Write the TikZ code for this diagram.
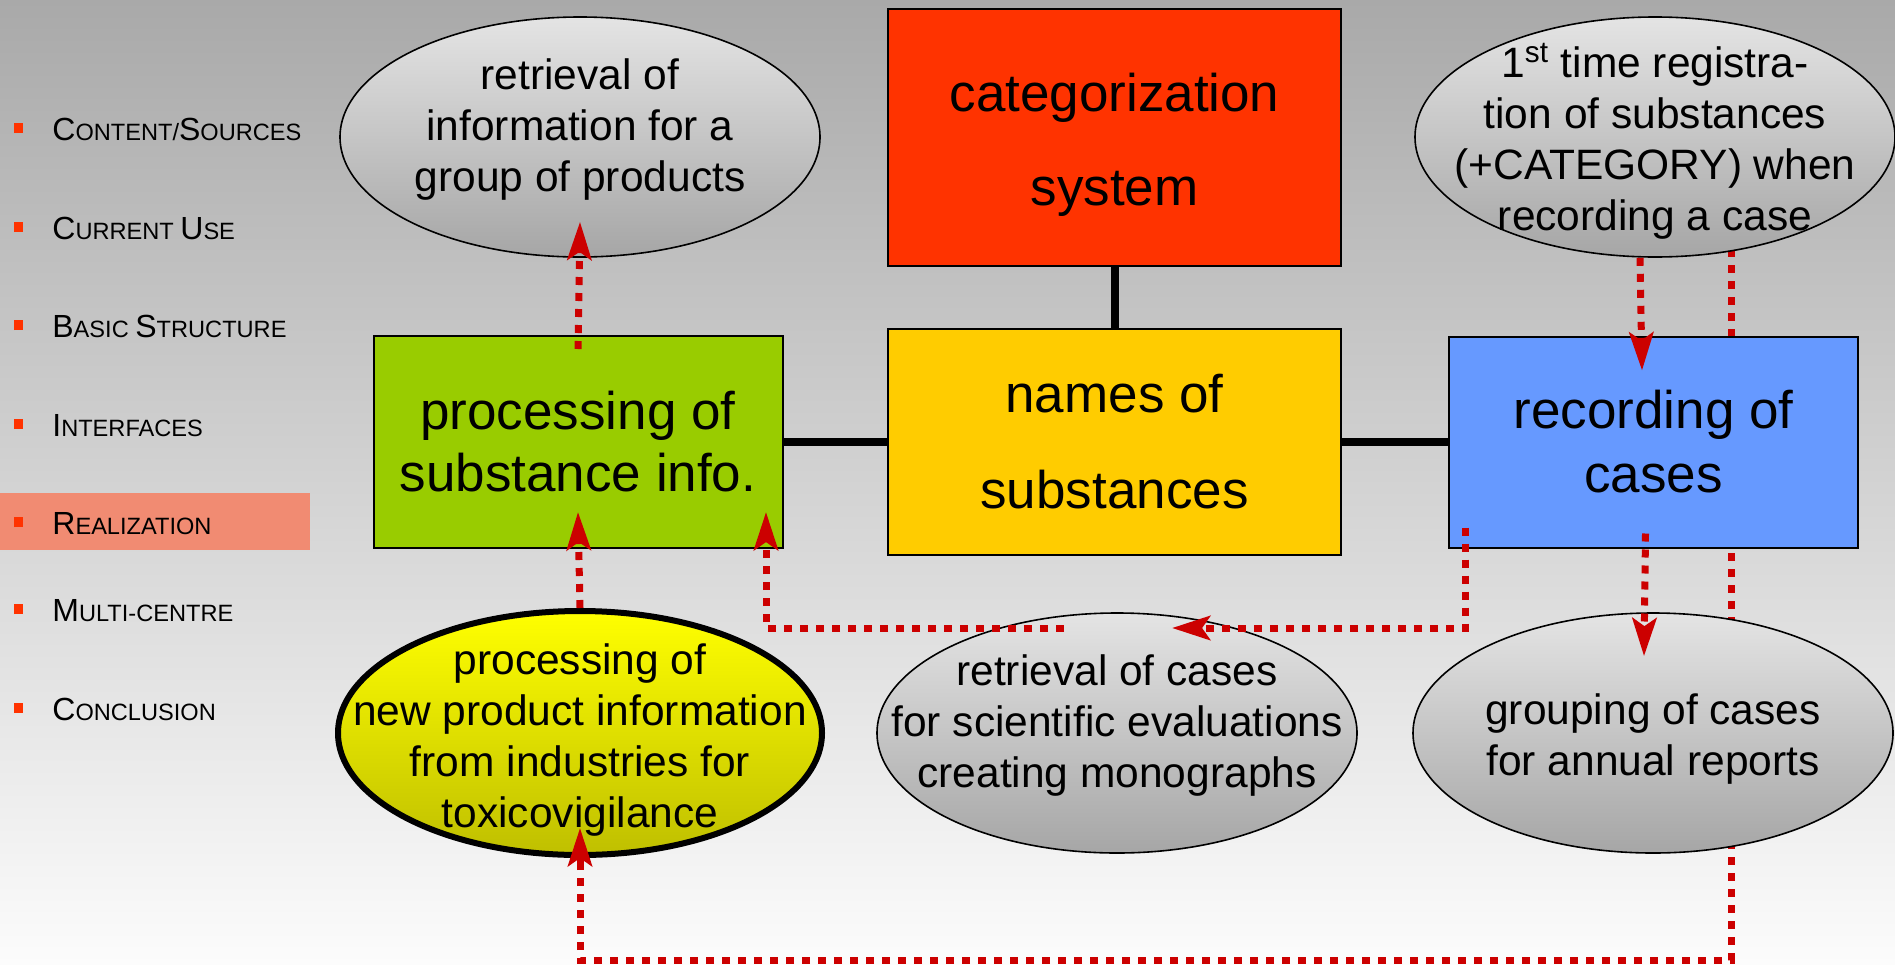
\documentclass[tikz,border=0pt]{standalone}
\usepackage{fontspec}
\setmainfont{Liberation Sans}
\usepackage{tikz}
\usetikzlibrary{arrows.meta,
                calc,
                positioning,
                shapes.geometric}

\definecolor{catred}{HTML}{FF3300}
\definecolor{nameyellow}{HTML}{FFCC00}
\definecolor{procgreen}{HTML}{99CC00}
\definecolor{recblue}{HTML}{6699FF}
\definecolor{flowred}{HTML}{CC0000}
\definecolor{hilite}{HTML}{F18B72}
\definecolor{ovaltop}{HTML}{E4E4E4}
\definecolor{ovalbot}{HTML}{A6A6A6}
\definecolor{bgtop}{HTML}{A9A9A9}
\definecolor{bgbot}{HTML}{FCFCFC}

\pgfdeclarelayer{bg}
\pgfdeclarelayer{behind}
\pgfsetlayers{bg,behind,main}

% sidebar: big first letters, small caps rest
\newcommand{\capL}[1]{{\fontsize{16pt}{19pt}\selectfont #1}}
\newcommand{\bul}{\textcolor{catred}{\rule[3.5pt]{4.5pt}{5pt}}\hspace{14.5pt}}

\begin{document}
\begin{tikzpicture}[
				x=0.5pt, y=-0.5pt,
				node distance=30pt,
				main box/.style={rectangle,draw,line width=1pt,align=center,inner sep=0pt,
				                 font=\fontsize{26.5pt}{48pt}\selectfont},
				oval/.style={ellipse,draw,line width=0.8pt,top color=ovaltop,bottom color=ovalbot,
				             minimum width=240pt,minimum height=120pt,inner sep=0pt},
				oval text/.style={align=center,inner sep=0pt,font=\fontsize{21.25pt}{25.5pt}\selectfont},
				side item/.style={anchor=base west,inner sep=0pt,font=\fontsize{11.8pt}{14pt}\selectfont},
				link/.style={line width=4pt},
				flow line/.style={draw=flowred,line width=3.5pt,dash pattern=on 4pt off 4pt},
				flow/.style={flow line,-{Stealth[length=19pt,width=12pt,inset=4pt]}}
				]
		\useasboundingbox (0,0) rectangle (1895,964);

		% sidebar
		\node[side item] (s1) at (14,140) {\bul\capL{C}ONTENT/\capL{S}OURCES};
		\node[side item] (s2) at (14,239) {\bul\capL{C}URRENT \capL{U}SE};
		\node[side item] (s3) at (14,337) {\bul\capL{B}ASIC \capL{S}TRUCTURE};
		\node[side item] (s4) at (14,436) {\bul\capL{I}NTERFACES};
		\node[side item] (s5) at (14,534) {\bul\capL{R}EALIZATION};
		\node[side item] (s6) at (14,621) {\bul\capL{M}ULTI-CENTRE};
		\node[side item] (s7) at (14,720) {\bul\capL{C}ONCLUSION};

		% boxes
		\node[main box,fill=catred,minimum width=226.5pt,minimum height=128.5pt,
		      font=\fontsize{26.5pt}{47pt}\selectfont,text height=73.2pt] (cat) at (1114.5,137.5) {categorization\\system};
		\node[main box,fill=nameyellow,minimum width=226.5pt,minimum height=113pt] (names) [below=30.5pt of cat] {names of\\substances};
		\node[main box,fill=procgreen,minimum width=204.5pt,minimum height=106pt,
		      font=\fontsize{26.5pt}{31pt}\selectfont] (proc) [left=51.75pt of names] {processing of\\substance info.};
		\node[main box,fill=recblue,minimum width=204.5pt,minimum height=105.5pt,
		      font=\fontsize{26.5pt}{32pt}\selectfont] (rec) [right=53pt of names] {recording of\\cases};

		% ovals
		\node[oval,label={[oval text,yshift=3.6pt]center:{retrieval of\\information for a\\group of products}}] (grpinfo) at (580,137) {};
		\node[oval,label={[oval text,yshift=-2.2pt]center:{1\textsuperscript{st} time registra-\\tion of substances\\(+CATEGORY) when\\recording a case}}] (reg) at (1655,137) {};
		\node[oval,label={[oval text,yshift=3.6pt]center:{retrieval of cases\\for scientific evaluations\\creating monographs}}] (ret) at (1117,733) {};
		\node[oval,label={[oval text,yshift=-3pt]center:{grouping of cases\\for annual reports}}] (grp) at (1653,733) {};
		\node[oval,line width=3pt,top color=yellow,bottom color=yellow!75!black,
		      minimum width=242pt,minimum height=122pt,
		      label={[oval text,yshift=-3.3pt]center:{processing of\\new product information\\from industries for\\toxicovigilance}}] (newinfo) at (580,733) {};

		% links
		\draw[link] (cat) -- (names);
		\draw[link] (proc) -- (names);
		\draw[link] (names) -- (rec);

		% flows
		\draw[flow] ($(proc.north)+(0,14)$) -- ($(grpinfo.south)+(0,-36)$);
		\draw[flow] (newinfo.north) -- ($(proc.south)+(0,-37)$);
		\draw[flow] ($(ret.center)+(-53,-105)$) -| ($(proc.south)+(188,-37)$);
		\draw[flow] ($(rec.south)+(-188,-21)$) |- ($(ret.center)+(55,-105)$);
		\draw[flow] ($(rec.south)+(-8,-15)$) -- ($(grp.north)+(-9,44)$);
		\draw[flow] ($(reg.south)+(-15,0)$) -- ($(rec.north)+(-11.5,35)$);
		\draw[flow] ($(newinfo.south)+(0,8)$) -- ($(newinfo.south)+(0,-30)$);

		\begin{pgfonlayer}{behind}
		\draw[flow line] ($(reg.center)+(76,0)$) |- ($(newinfo.south)+(0,102)$) -- (newinfo.center);
		\end{pgfonlayer}

		\begin{pgfonlayer}{bg}
		\shade[top color=bgtop,bottom color=bgbot] (0,0) rectangle (1895,964);
		\fill[hilite] (0,493) rectangle (310,550);
		\end{pgfonlayer}
\end{tikzpicture}
\end{document}
